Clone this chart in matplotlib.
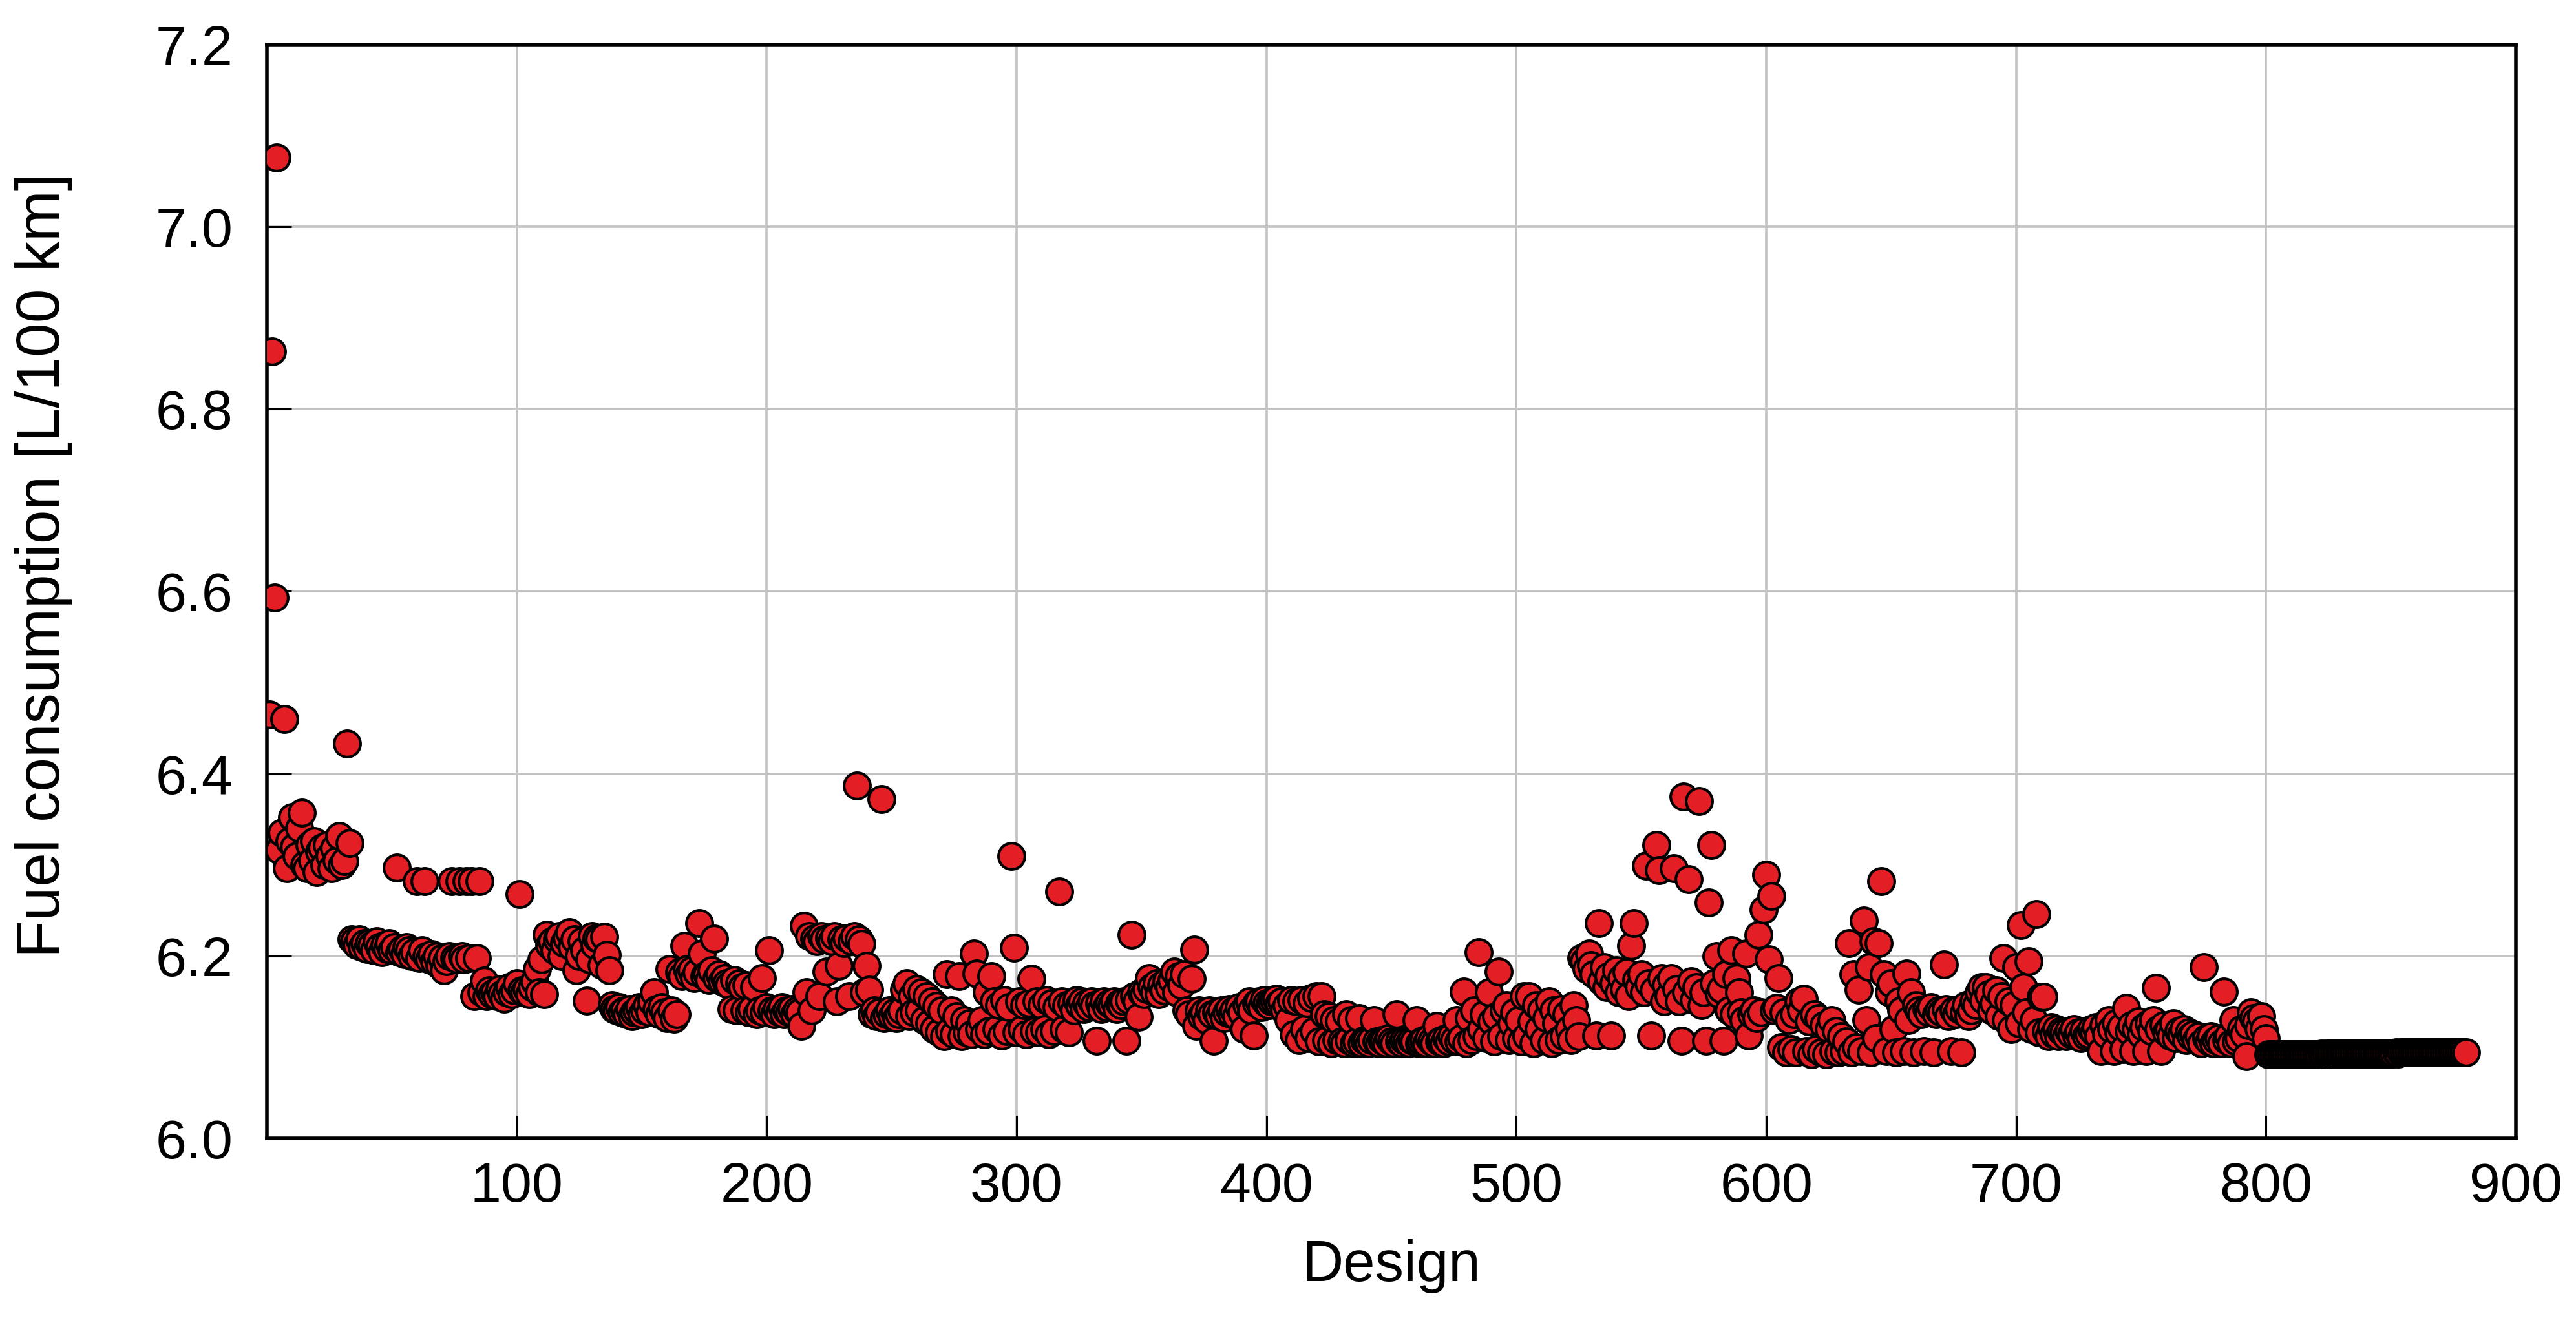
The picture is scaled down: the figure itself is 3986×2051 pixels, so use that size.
import numpy as np
import matplotlib
matplotlib.use('Agg')
import matplotlib.pyplot as plt

#======================================================================
#        fuel consumption [L/100 km] of each design
#======================================================================
fuel_001_100 = [
    6.465, 6.863, 6.593, 7.076, 6.316, 6.335, 6.460, 6.296, 6.326, 6.352,
    6.320, 6.310, 6.340, 6.357, 6.300, 6.296, 6.322, 6.305, 6.326, 6.292,
    6.315, 6.319, 6.300, 6.322, 6.310, 6.296, 6.318, 6.305, 6.332, 6.300,
    6.304, 6.433, 6.324, 6.218, 6.216, 6.212, 6.218, 6.210, 6.214, 6.208,
    6.214, 6.212, 6.206, 6.216, 6.210, 6.204, 6.212, 6.208, 6.214, 6.206,
    6.210, 6.297, 6.204, 6.208, 6.202, 6.210, 6.206, 6.200, 6.204, 6.282,
    6.198, 6.206, 6.282, 6.200, 6.196, 6.202, 6.194, 6.200, 6.190, 6.198,
    6.184, 6.194, 6.200, 6.282, 6.198, 6.196, 6.282, 6.200, 6.196, 6.282,
    6.198, 6.282, 6.156, 6.198, 6.282, 6.160, 6.173, 6.156, 6.162, 6.158,
    6.160, 6.156, 6.164, 6.158, 6.153, 6.160, 6.166, 6.158, 6.162, 6.170]
fuel_101_200 = [
    6.268, 6.162, 6.160, 6.164, 6.158, 6.166, 6.172, 6.186, 6.160, 6.196,
    6.158, 6.223, 6.212, 6.216, 6.206, 6.218, 6.222, 6.200, 6.214, 6.220,
    6.226, 6.210, 6.218, 6.184, 6.200, 6.216, 6.206, 6.151, 6.196, 6.222,
    6.212, 6.220, 6.218, 6.190, 6.221, 6.201, 6.184, 6.146, 6.142, 6.140,
    6.144, 6.138, 6.140, 6.136, 6.142, 6.134, 6.138, 6.140, 6.144, 6.136,
    6.140, 6.146, 6.138, 6.150, 6.160, 6.142, 6.136, 6.144, 6.138, 6.132,
    6.186, 6.140, 6.131, 6.136, 6.182, 6.178, 6.211, 6.186, 6.180, 6.184,
    6.176, 6.182, 6.236, 6.203, 6.178, 6.180, 6.174, 6.184, 6.219, 6.176,
    6.180, 6.172, 6.176, 6.170, 6.168, 6.142, 6.174, 6.140, 6.170, 6.166,
    6.140, 6.168, 6.138, 6.142, 6.166, 6.136, 6.140, 6.176, 6.138, 6.144]
fuel_201_300 = [
    6.206, 6.140, 6.136, 6.142, 6.138, 6.144, 6.136, 6.140, 6.138, 6.142,
    6.136, 6.140, 6.138, 6.123, 6.233, 6.160, 6.222, 6.140, 6.219, 6.216,
    6.156, 6.222, 6.218, 6.183, 6.220, 6.216, 6.222, 6.150, 6.189, 6.218,
    6.214, 6.220, 6.156, 6.216, 6.222, 6.387, 6.218, 6.213, 6.160, 6.189,
    6.163, 6.136, 6.140, 6.134, 6.138, 6.372, 6.132, 6.136, 6.140, 6.134,
    6.138, 6.132, 6.136, 6.140, 6.163, 6.170, 6.134, 6.156, 6.138, 6.164,
    6.140, 6.160, 6.130, 6.156, 6.126, 6.150, 6.120, 6.145, 6.116, 6.140,
    6.112, 6.180, 6.118, 6.140, 6.114, 6.134, 6.178, 6.112, 6.130, 6.116,
    6.126, 6.114, 6.203, 6.181, 6.120, 6.130, 6.114, 6.160, 6.118, 6.178,
    6.150, 6.120, 6.146, 6.113, 6.152, 6.118, 6.144, 6.310, 6.209, 6.116]
fuel_301_400 = [
    6.150, 6.120, 6.146, 6.114, 6.148, 6.175, 6.118, 6.150, 6.116, 6.146,
    6.120, 6.152, 6.114, 6.148, 6.118, 6.144, 6.271, 6.150, 6.120, 6.146,
    6.116, 6.148, 6.140, 6.152, 6.146, 6.150, 6.142, 6.148, 6.144, 6.150,
    6.146, 6.107, 6.148, 6.142, 6.150, 6.144, 6.148, 6.146, 6.150, 6.142,
    6.148, 6.146, 6.150, 6.107, 6.152, 6.223, 6.156, 6.150, 6.133, 6.160,
    6.158, 6.164, 6.176, 6.166, 6.160, 6.170, 6.158, 6.168, 6.162, 6.172,
    6.166, 6.174, 6.183, 6.160, 6.178, 6.168, 6.180, 6.140, 6.136, 6.175,
    6.207, 6.123, 6.140, 6.134, 6.138, 6.130, 6.140, 6.136, 6.107, 6.138,
    6.134, 6.140, 6.132, 6.138, 6.142, 6.136, 6.140, 6.134, 6.144, 6.138,
    6.120, 6.146, 6.150, 6.140, 6.113, 6.148, 6.150, 6.144, 6.152, 6.148]
fuel_401_500 = [
    6.146, 6.150, 6.152, 6.153, 6.148, 6.150, 6.140, 6.146, 6.130, 6.152,
    6.114, 6.150, 6.108, 6.152, 6.120, 6.148, 6.110, 6.154, 6.118, 6.156,
    6.106, 6.156, 6.136, 6.108, 6.134, 6.104, 6.130, 6.108, 6.128, 6.106,
    6.104, 6.136, 6.108, 6.130, 6.104, 6.106, 6.132, 6.104, 6.108, 6.106,
    6.104, 6.108, 6.130, 6.106, 6.104, 6.108, 6.106, 6.104, 6.110, 6.106,
    6.104, 6.136, 6.106, 6.104, 6.108, 6.106, 6.104, 6.108, 6.106, 6.130,
    6.104, 6.106, 6.108, 6.104, 6.110, 6.106, 6.104, 6.123, 6.106, 6.108,
    6.104, 6.110, 6.106, 6.112, 6.108, 6.130, 6.106, 6.110, 6.161, 6.104,
    6.132, 6.108, 6.140, 6.112, 6.204, 6.120, 6.136, 6.110, 6.160, 6.128,
    6.106, 6.134, 6.183, 6.112, 6.140, 6.146, 6.108, 6.126, 6.138, 6.110]
fuel_501_600 = [
    6.130, 6.106, 6.156, 6.112, 6.156, 6.128, 6.104, 6.146, 6.120, 6.140,
    6.108, 6.132, 6.150, 6.104, 6.140, 6.126, 6.108, 6.142, 6.112, 6.136,
    6.120, 6.108, 6.146, 6.130, 6.112, 6.198, 6.194, 6.186, 6.203, 6.190,
    6.180, 6.113, 6.236, 6.172, 6.188, 6.166, 6.178, 6.113, 6.170, 6.184,
    6.160, 6.176, 6.164, 6.182, 6.156, 6.211, 6.236, 6.174, 6.166, 6.180,
    6.160, 6.299, 6.170, 6.113, 6.162, 6.322, 6.294, 6.176, 6.150, 6.168,
    6.156, 6.176, 6.296, 6.164, 6.150, 6.107, 6.375, 6.160, 6.284, 6.172,
    6.152, 6.166, 6.370, 6.146, 6.160, 6.107, 6.259, 6.322, 6.170, 6.200,
    6.158, 6.164, 6.107, 6.180, 6.140, 6.206, 6.136, 6.176, 6.160, 6.138,
    6.130, 6.203, 6.113, 6.136, 6.140, 6.132, 6.223, 6.138, 6.251, 6.289]
fuel_601_700 = [
    6.196, 6.266, 6.140, 6.143, 6.176, 6.100, 6.138, 6.094, 6.130, 6.098,
    6.136, 6.094, 6.150, 6.140, 6.153, 6.096, 6.128, 6.092, 6.136, 6.098,
    6.132, 6.094, 6.124, 6.092, 6.120, 6.130, 6.096, 6.118, 6.094, 6.112,
    6.096, 6.106, 6.214, 6.094, 6.180, 6.100, 6.163, 6.096, 6.239, 6.130,
    6.188, 6.094, 6.216, 6.110, 6.214, 6.282, 6.180, 6.096, 6.160, 6.170,
    6.120, 6.094, 6.150, 6.140, 6.096, 6.181, 6.130, 6.160, 6.094, 6.146,
    6.140, 6.136, 6.096, 6.142, 6.138, 6.144, 6.094, 6.136, 6.140, 6.138,
    6.191, 6.142, 6.134, 6.096, 6.140, 6.136, 6.142, 6.094, 6.138, 6.146,
    6.134, 6.140, 6.150, 6.146, 6.160, 6.166, 6.152, 6.166, 6.158, 6.140,
    6.148, 6.162, 6.134, 6.156, 6.198, 6.130, 6.150, 6.120, 6.146, 6.188]
fuel_701_800 = [
    6.126, 6.234, 6.166, 6.138, 6.194, 6.120, 6.130, 6.246, 6.116, 6.155,
    6.155, 6.118, 6.112, 6.122, 6.114, 6.120, 6.112, 6.118, 6.116, 6.112,
    6.118, 6.114, 6.120, 6.112, 6.116, 6.110, 6.118, 6.112, 6.114, 6.120,
    6.116, 6.122, 6.112, 6.096, 6.124, 6.114, 6.130, 6.120, 6.096, 6.126,
    6.116, 6.122, 6.098, 6.143, 6.118, 6.124, 6.096, 6.120, 6.128, 6.114,
    6.122, 6.096, 6.126, 6.118, 6.130, 6.165, 6.120, 6.096, 6.124, 6.116,
    6.120, 6.112, 6.126, 6.110, 6.118, 6.114, 6.120, 6.108, 6.116, 6.112,
    6.114, 6.108, 6.112, 6.104, 6.188, 6.110, 6.106, 6.112, 6.104, 6.108,
    6.110, 6.104, 6.161, 6.108, 6.112, 6.104, 6.130, 6.106, 6.110, 6.120,
    6.114, 6.090, 6.124, 6.138, 6.132, 6.128, 6.120, 6.134, 6.120, 6.110]
fuel_801_880 = [
    6.092, 6.092, 6.092, 6.092, 6.092, 6.092, 6.092, 6.092, 6.092, 6.092,
    6.092, 6.092, 6.092, 6.092, 6.092, 6.092, 6.092, 6.092, 6.092, 6.092,
    6.092, 6.093, 6.092, 6.093, 6.093, 6.093, 6.093, 6.093, 6.093, 6.093,
    6.093, 6.093, 6.093, 6.093, 6.093, 6.093, 6.093, 6.093, 6.093, 6.093,
    6.093, 6.093, 6.093, 6.093, 6.093, 6.093, 6.093, 6.093, 6.093, 6.093,
    6.093, 6.094, 6.093, 6.094, 6.094, 6.094, 6.094, 6.094, 6.094, 6.094,
    6.094, 6.094, 6.094, 6.094, 6.094, 6.094, 6.094, 6.094, 6.094, 6.094,
    6.094, 6.094, 6.094, 6.094, 6.094, 6.094, 6.094, 6.094, 6.094, 6.094]

fuel = np.array(fuel_001_100 + fuel_101_200 + fuel_201_300 + fuel_301_400 +
                fuel_401_500 + fuel_501_600 + fuel_601_700 + fuel_701_800 +
                fuel_801_880)
design = np.arange(1, len(fuel) + 1)

xticks = [100, 200, 300, 400, 500, 600, 700, 800, 900]
yticks = [6.0, 6.2, 6.4, 6.6, 6.8, 7.0, 7.2]

#======================================================================
#                               plot
#======================================================================
plt.rcParams['font.family'] = ['Liberation Sans', 'DejaVu Sans']

fig = plt.figure(figsize=(19.93, 10.255), dpi=200)
ax = fig.add_axes([0.1036, 0.1409, 0.8731, 0.8255])

ax.scatter(design, fuel, s=215, c='#e41e25', edgecolors='black',
           linewidths=1.5, zorder=3)

ax.set_xlim(0, 900)
ax.set_ylim(6.0, 7.2)
ax.set_xticks(xticks)
ax.set_yticks(yticks)
ax.set_yticklabels(['%.1f' % v for v in yticks])

ax.grid(True, color='#c2c2c2', linewidth=1.3, zorder=0)
ax.set_axisbelow(True)
for sp in ax.spines.values():
    sp.set_linewidth(2.0)

ax.tick_params(axis='y', direction='in', length=13.5, width=1.1,
               labelsize=31, pad=19)
ax.tick_params(axis='x', direction='in', length=12.5, width=1.1,
               labelsize=31, pad=13)

ax.set_xlabel('Design', fontsize=32)
ax.set_ylabel('Fuel consumption [L/100 km]', fontsize=34)
ax.xaxis.set_label_coords(0.5, -0.092)
ax.yaxis.set_label_coords(-0.0865, 0.524)

fig.savefig('out.png', dpi=200)
